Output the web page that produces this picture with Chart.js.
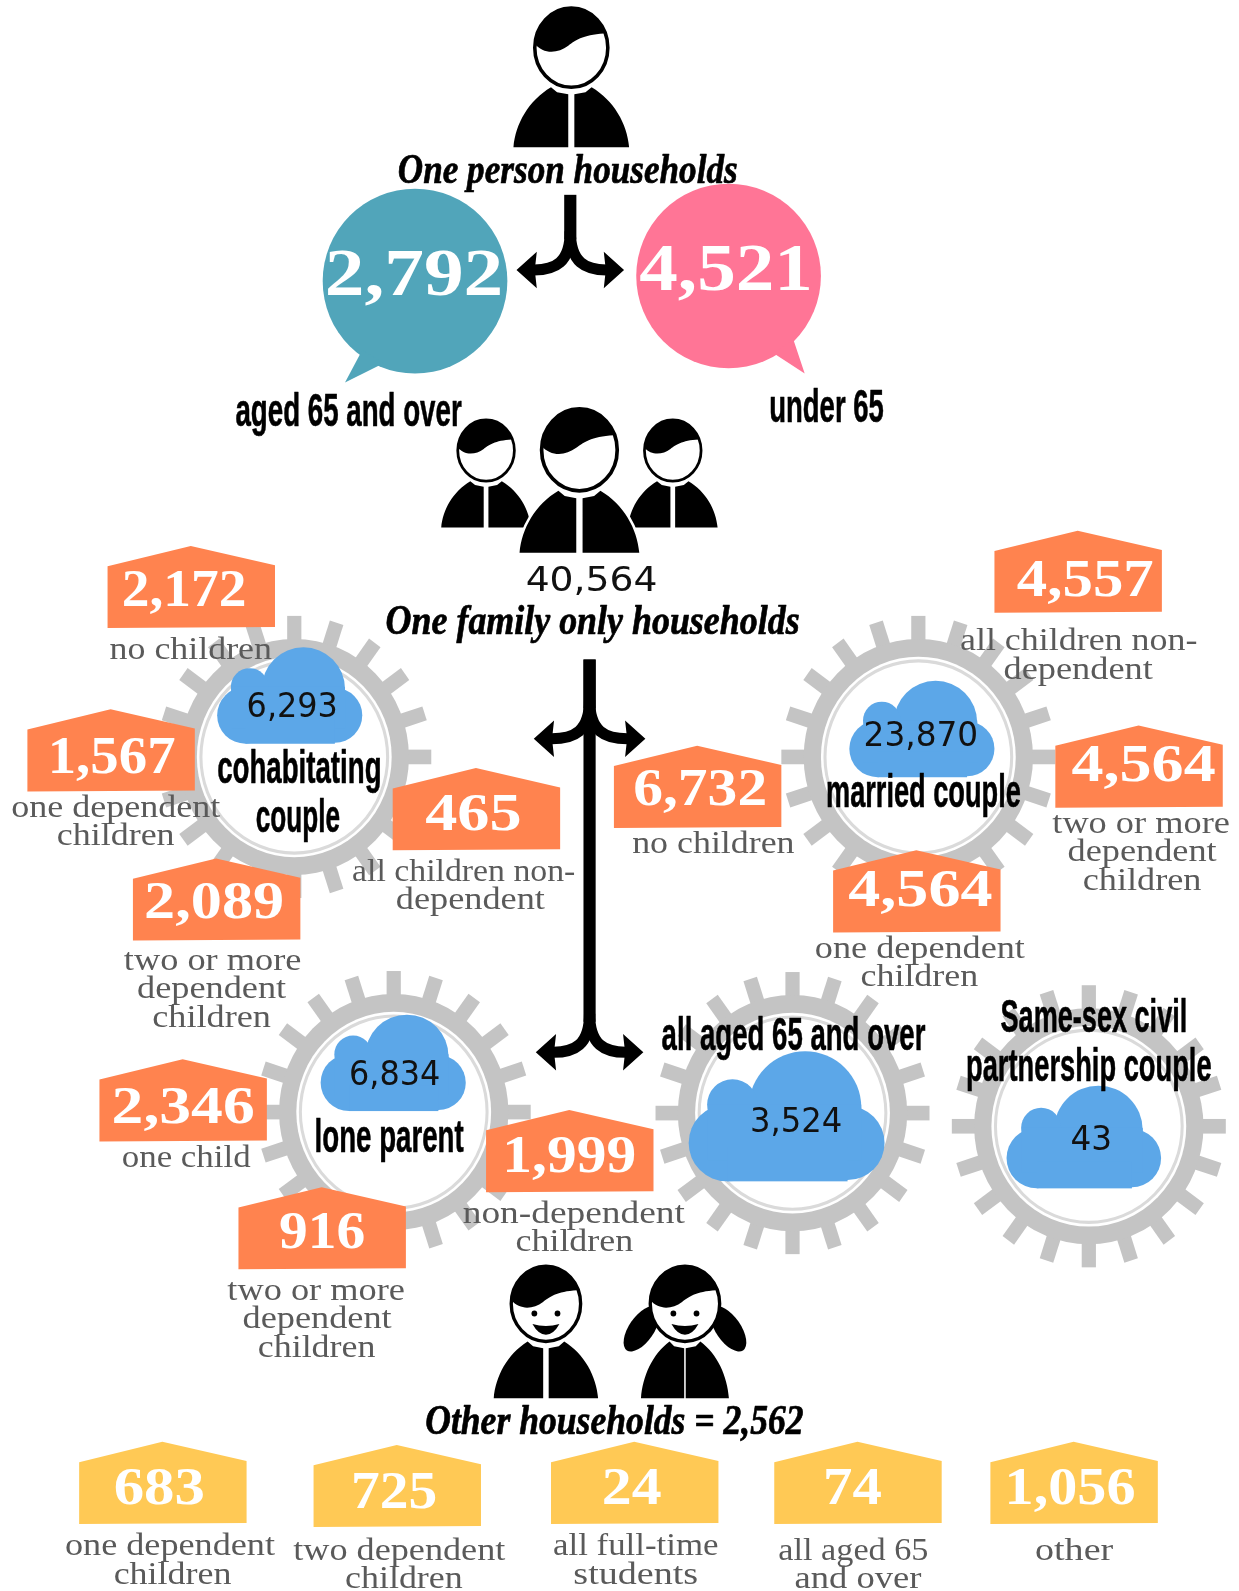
<!DOCTYPE html>
<html lang="en">
<head>
    <meta charset="UTF-8">
    <title>Households by type</title>
    <script src="https://cdn.jsdelivr.net/npm/chart.js@4/dist/chart.umd.min.js"></script>
    <style>
        html, body { margin: 0; padding: 0; background: #fff; }
        canvas { display: block; filter: blur(0.5px); }
    </style>
</head>
<body>
    <canvas id="households" width="1239" height="1591"></canvas>

    <script>
        // ---- values ----
        const onePersonValues = [2792, 4521];
        const onePersonLabels = ['aged 65 and over', 'under 65'];

        const familyTotal = 40564;
        const groupValues = [6293, 23870, 6834, 3524, 43];
        const groupLabels = [
            ['cohabitating', 'couple'],
            ['married couple'],
            ['lone parent'],
            ['all aged 65 and over'],
            ['Same-sex civil', 'partnership couple']
        ];

        const tagValues = [2172, 1567, 465, 2089, 6732, 4557, 4564, 4564, 2346, 1999, 916, 683, 725, 24, 74, 1056];
        const tagCaptions = [
            ['no children'],
            ['one dependent', 'children'],
            ['all children non-', 'dependent'],
            ['two or more', 'dependent', 'children'],
            ['no children'],
            ['all children non-', 'dependent'],
            ['two or more', 'dependent', 'children'],
            ['one dependent', 'children'],
            ['one child'],
            ['non-dependent', 'children'],
            ['two or more', 'dependent', 'children'],
            ['one dependent', 'children'],
            ['two dependent', 'children'],
            ['all full-time', 'students'],
            ['all aged 65', 'and over'],
            ['other']
        ];
        const titles = ['One person households', 'One family only households', 'Other households = 2,562'];

        // ---- layout, in picture units (axes run 0-1221 and 0-1568) ----
        const bubbleAt = [[409, 277], [718, 272]];
        const bubbleColours = ['#51A5BA', '#FF7596'];
        const bubbleTails = [[[357, 345], [340, 377], [378, 358]], [[782, 335], [793, 368], [762, 348]]];
        const bubbleText = [[320, 496, 291], [630, 801, 286]];
        const bubbleLabelText = [[232, 455, 420], [758, 871, 416]];

        const gearAt = [[290, 746], [905, 746], [388, 1096], [781, 1097], [1073, 1110]];
        const cloudAt = [[215, 638, 1], [838, 671, 1], [317, 1000, 1], [680, 1036, 1.35], [993, 1070, 1.065]];
        const cloudText = [[243, 333, 707], [851, 964, 735], [344, 434, 1069], [739, 830, 1116], [1055, 1096, 1133]];
        const groupLabelText = [
            [[214, 376, 772], [252, 335, 820]],
            [[814, 1006, 795]],
            [[310, 457, 1135]],
            [[652, 912, 1035]],
            [[986, 1170, 1017], [952, 1194, 1065]]
        ];

        const tagAt = [[106, 538], [27, 699], [387, 757], [131, 846], [605, 735], [980, 523], [1040, 715], [821, 838],
            [98, 1044], [479, 1094], [235, 1170], [78, 1421], [309, 1424], [543, 1421], [763, 1421], [976, 1421]];
        const tagText = [[120, 243, 597], [47, 173, 762], [419, 514, 818], [142, 280, 905], [624, 756, 793], [1002, 1137, 587],
            [1056, 1198, 770], [836, 978, 893], [110, 251, 1107], [495, 627, 1155], [275, 360, 1230], [112, 202, 1482],
            [346, 431, 1486], [593, 652, 1482], [811, 869, 1482], [990, 1119, 1482]];
        const captionText = [
            [[108, 268, 649]],
            [[11, 217, 805], [56, 172, 833]],
            [[347, 567, 868], [390, 537, 896]],
            [[122, 297, 956], [135, 282, 984], [150, 267, 1012]],
            [[623, 783, 841]],
            [[946, 1180, 641], [989, 1136, 669]],
            [[1037, 1212, 821], [1052, 1199, 849], [1067, 1184, 877]],
            [[803, 1010, 944], [848, 964, 972]],
            [[120, 247, 1150]],
            [[456, 675, 1205], [508, 624, 1233]],
            [[224, 399, 1281], [239, 386, 1309], [254, 370, 1337]],
            [[64, 271, 1533], [112, 228, 1561]],
            [[289, 498, 1537], [340, 456, 1565]],
            [[545, 708, 1533], [565, 688, 1561]],
            [[767, 915, 1537], [783, 908, 1565]],
            [[1020, 1097, 1537]]
        ];
        const titleText = [[392, 727, 180], [380, 788, 625], [419, 792, 1413]];
        const totalText = [518, 648, 582];

        // x, head top, scale, body width factor, kind
        const people = [
            [479, 413, 0.775, 1, 'man'], [663, 413, 0.775, 1, 'man'], [571, 402, 1.035, 1, 'man'],
            [563, 7, 1, 1, 'man'], [538, 1247, 0.95, 0.95, 'boy'], [675, 1247, 0.95, 0.8, 'girl']
        ];
        // stem x, arrow y, half width, stem top
        const forks = [[562, 266, 53, 192], [581, 728, 55, 650], [581, 1037, 53, 650]];

        const ORANGE = '#FF834F', YELLOW = '#FFC955', CLOUD = '#5CA7E8', GEAR = '#C4C4C4', CAPTION = '#5A5A5A';
        const FONT_NUM = 'bold 51px "Liberation Serif"';
        const FONT_BIG = 'bold 66px "Liberation Serif"';
        const FONT_CAPTION = '31px "Liberation Serif"';
        const FONT_COND = 'bold 46px "Liberation Sans"';
        const FONT_SCRIPT = 'italic bold 42px "Liberation Serif"';
        const FONT_PLAIN = '33px "DejaVu Sans"';

        const asPoints = list => list.map(p => ({ x: p[0], y: p[1] }));

        // draws every shape at the pixel the chart's scales give for it
        const infographic = {
            id: 'infographic',
            afterDatasetsDraw(chart) {
                const ctx = chart.ctx;
                const px = v => chart.scales.x.getPixelForValue(v);
                const py = v => chart.scales.y.getPixelForValue(v);
                const k = chart.scales.x.width / 1221;
                const pts = name => chart.getDatasetMeta(chart.data.datasets.findIndex(d => d.label === name)).data;

                const put = (text, span, font, colour, weight) => {
                    ctx.save();
                    ctx.font = font;
                    ctx.textAlign = 'left';
                    ctx.textBaseline = 'alphabetic';
                    const w = ctx.measureText(text).width;
                    ctx.translate(px(span[0]), py(span[2]));
                    ctx.scale((px(span[1]) - px(span[0])) / w, k);
                    ctx.fillStyle = colour;
                    ctx.fillText(text, 0, 0);
                    if (weight) {
                        ctx.strokeStyle = colour;
                        ctx.lineWidth = weight;
                        ctx.lineJoin = 'round';
                        ctx.strokeText(text, 0, 0);
                    }
                    ctx.restore();
                };

                const circle = (x, y, r) => {
                    ctx.beginPath();
                    ctx.arc(x, y, r, 0, Math.PI * 2);
                    ctx.fill();
                };

                // gears
                pts('gears').forEach(p => {
                    ctx.save();
                    ctx.translate(p.x, p.y);
                    ctx.scale(k, k * 139 / 135);
                    ctx.fillStyle = GEAR;
                    for (let i = 0; i < 20; i++) {
                        ctx.save();
                        ctx.rotate(i * Math.PI / 10);
                        ctx.fillRect(-7, -135, 14, 30);
                        ctx.restore();
                    }
                    circle(0, 0, 113);
                    ctx.fillStyle = '#fff';
                    circle(0, 0, 96);
                    ctx.strokeStyle = '#DADADA';
                    ctx.lineWidth = 3;
                    ctx.beginPath();
                    ctx.arc(0, 0, 92, 0, Math.PI * 2);
                    ctx.stroke();
                    ctx.restore();
                });

                // clouds
                pts('clouds').forEach((p, i) => {
                    const s = cloudAt[i][2];
                    ctx.save();
                    ctx.translate(p.x, p.y);
                    ctx.scale(k * s, k * s);
                    ctx.fillStyle = CLOUD;
                    circle(27, 67, 28);
                    circle(115, 67, 27);
                    circle(84, 41, 41);
                    circle(31, 39, 18.5);
                    ctx.fillRect(13, 39, 112, 41);
                    ctx.fillRect(27, 70, 88, 25);
                    ctx.restore();
                });
                groupValues.forEach((v, i) => {
                    put(v.toLocaleString('en-US'), cloudText[i], FONT_PLAIN, '#111');
                    groupLabels[i].forEach((line, j) => put(line, groupLabelText[i][j], FONT_COND, '#000', 0.6));
                });

                // speech bubbles
                pts('bubbles').forEach((p, i) => {
                    ctx.fillStyle = bubbleColours[i];
                    circle(p.x, p.y, 91 * k);
                    const tail = bubbleTails[i];
                    ctx.beginPath();
                    ctx.moveTo(px(tail[0][0]), py(tail[0][1]));
                    ctx.lineTo(px(tail[1][0]), py(tail[1][1]));
                    ctx.lineTo(px(tail[2][0]), py(tail[2][1]));
                    ctx.closePath();
                    ctx.fill();
                    put(onePersonValues[i].toLocaleString('en-US'), bubbleText[i], FONT_BIG, '#fff');
                    put(onePersonLabels[i], bubbleLabelText[i], FONT_COND, '#000', 0.6);
                });

                // tags
                pts('tags').forEach((p, i) => {
                    ctx.save();
                    ctx.translate(p.x, p.y);
                    ctx.scale(k, k);
                    ctx.fillStyle = i > 10 ? YELLOW : ORANGE;
                    ctx.beginPath();
                    ctx.moveTo(82, 0);
                    ctx.lineTo(165, 19);
                    ctx.lineTo(165, 80);
                    ctx.lineTo(0, 81);
                    ctx.lineTo(0, 20);
                    ctx.closePath();
                    ctx.fill();
                    ctx.restore();
                    put(tagValues[i].toLocaleString('en-US'), tagText[i], FONT_NUM, '#fff');
                    tagCaptions[i].forEach((line, j) => put(line, captionText[i][j], FONT_CAPTION, CAPTION));
                });

                // forked arrows
                pts('forks').forEach((p, i) => {
                    const f = forks[i];
                    ctx.save();
                    ctx.translate(p.x, p.y);
                    ctx.scale(k, k);
                    ctx.strokeStyle = '#000';
                    ctx.fillStyle = '#000';
                    ctx.lineWidth = 12;
                    ctx.beginPath();
                    ctx.moveTo(0, (py(f[3]) - p.y) / k);
                    ctx.lineTo(0, -30);
                    ctx.stroke();
                    [-1, 1].forEach(side => {
                        const tip = side * f[2];
                        ctx.lineWidth = 11;
                        ctx.beginPath();
                        ctx.moveTo(0, -38);
                        ctx.bezierCurveTo(0, -8, side * 14, 1, tip - side * 14, 0);
                        ctx.stroke();
                        ctx.beginPath();
                        ctx.moveTo(tip, 0);
                        ctx.lineTo(tip - side * 20, -18);
                        ctx.lineTo(tip - side * 18, 0);
                        ctx.lineTo(tip - side * 20, 18);
                        ctx.closePath();
                        ctx.fill();
                    });
                    ctx.restore();
                });

                // people
                pts('people').forEach((p, i) => {
                    const [, , s, bodyW, kind] = people[i];
                    ctx.save();
                    ctx.translate(p.x, p.y);
                    ctx.scale(k * s, k * s);
                    ctx.fillStyle = '#000';

                    if (kind === 'girl') {
                        [-1, 1].forEach(side => {
                            ctx.save();
                            ctx.translate(side * 45, 66);
                            ctx.rotate(-side * 0.6);
                            ctx.beginPath();
                            ctx.ellipse(0, 0, 13, 27, 0, 0, Math.PI * 2);
                            ctx.fill();
                            ctx.restore();
                        });
                    }

                    // body, halves mirrored
                    [-1, 1].forEach(side => {
                        ctx.save();
                        ctx.scale(side * bodyW, 1);
                        ctx.beginPath();
                        ctx.moveTo(-57, 138);
                        ctx.bezierCurveTo(-55, 115, -42, 92, -20, 79);
                        ctx.lineTo(-14, 84);
                        ctx.lineTo(kind === 'girl' ? -1 : -3, 86);
                        ctx.lineTo(kind === 'girl' ? -1 : -3, 138);
                        ctx.closePath();
                        if (s > 1) {
                            ctx.strokeStyle = '#fff';
                            ctx.lineWidth = 5;
                            ctx.stroke();
                        }
                        ctx.fill();
                        ctx.restore();
                    });

                    // head and hair
                    ctx.fillStyle = '#fff';
                    ctx.strokeStyle = '#000';
                    ctx.lineWidth = 3.5;
                    ctx.beginPath();
                    ctx.ellipse(0, 40, 36, 39, 0, 0, Math.PI * 2);
                    ctx.fill();
                    ctx.stroke();
                    ctx.save();
                    ctx.clip();
                    ctx.fillStyle = '#000';
                    ctx.beginPath();
                    ctx.moveTo(-38, 34);
                    ctx.bezierCurveTo(-28, 47, -14, 46, -3, 38);
                    ctx.bezierCurveTo(5, 32, 14, 26, 38, 26);
                    ctx.lineTo(38, -4);
                    ctx.lineTo(-38, -4);
                    ctx.closePath();
                    ctx.fill();
                    ctx.restore();

                    if (kind !== 'man') {
                        ctx.fillStyle = '#000';
                        circle(-12, 50, 3);
                        circle(12, 50, 3);
                        ctx.beginPath();
                        ctx.moveTo(-14, 61);
                        ctx.quadraticCurveTo(0, 65, 14, 61);
                        ctx.quadraticCurveTo(8, 72, 0, 72);
                        ctx.quadraticCurveTo(-8, 72, -14, 61);
                        ctx.fill();
                    }
                    ctx.restore();
                });

                // titles and the family total
                titles.forEach((t, i) => put(t, titleText[i], FONT_SCRIPT, '#000', 0.7));
                put(familyTotal.toLocaleString('en-US'), totalText, FONT_PLAIN, '#111');
            }
        };

        const layer = (label, list) => ({ label, data: asPoints(list), pointRadius: 0, showLine: false });

        new Chart(document.getElementById('households'), {
            type: 'scatter',
            data: {
                datasets: [
                    layer('gears', gearAt),
                    layer('clouds', cloudAt),
                    layer('bubbles', bubbleAt),
                    layer('tags', tagAt),
                    layer('forks', forks.map(f => [f[0], f[1]])),
                    layer('people', people)
                ]
            },
            options: {
                responsive: false,
                animation: false,
                layout: { padding: 0 },
                events: [],
                scales: {
                    x: { type: 'linear', min: 0, max: 1221, display: false },
                    y: { type: 'linear', min: 0, max: 1568, reverse: true, display: false }
                },
                plugins: {
                    legend: { display: false },
                    tooltip: { enabled: false }
                }
            },
            plugins: [infographic]
        });
    </script>
</body>
</html>
